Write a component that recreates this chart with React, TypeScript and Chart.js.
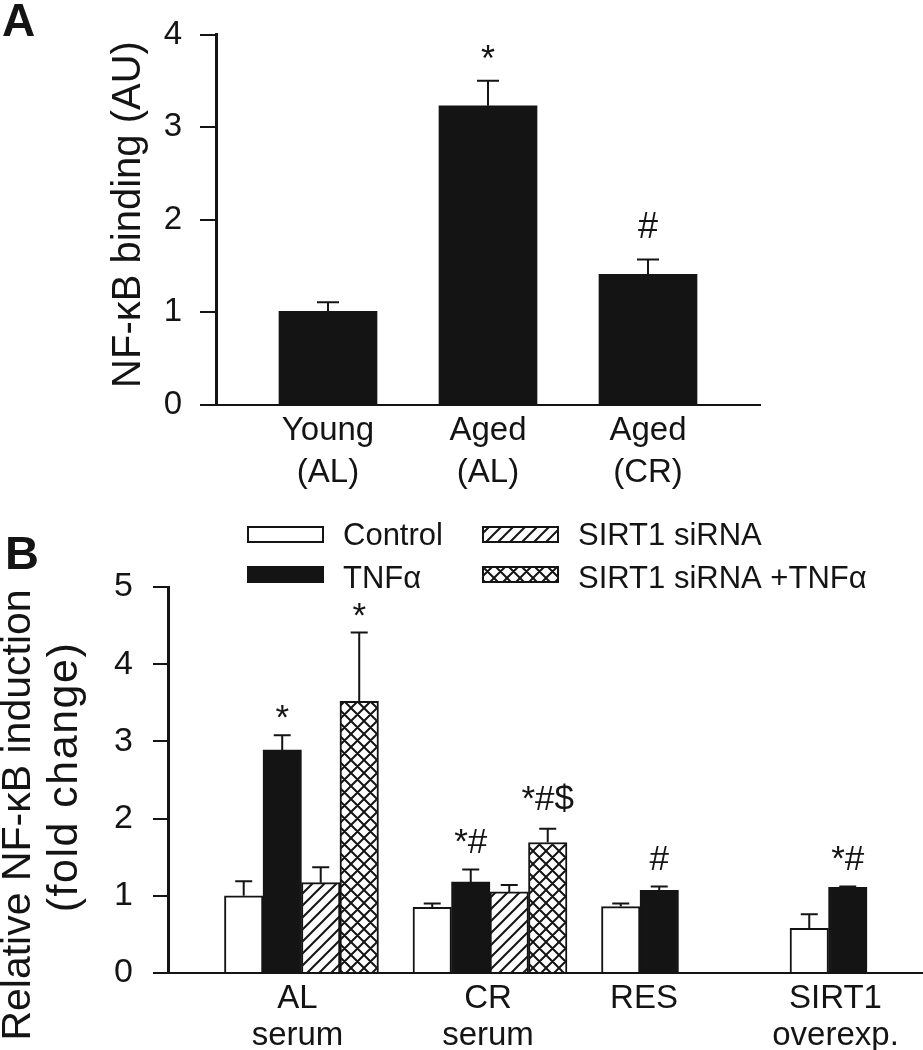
import React, { useEffect, useRef } from 'react';
import { Chart, registerables } from 'chart.js';

Chart.register(...registerables);

const FONT = '"Liberation Sans", Arial, Helvetica, sans-serif';
const INK = '#141414';

// ---------- Panel A data ----------
const categoriesA = [['Young', '(AL)'], ['Aged', '(AL)'], ['Aged', '(CR)']];
const valuesA = [1.01, 3.23, 1.41];
const errorsA = [0.1, 0.27, 0.16];
const marksA = ['', '*', '#'];
const ticksA = [0, 1, 2, 3, 4];

// ---------- Panel B data ----------
const categoriesB = [['AL', 'serum'], ['CR', 'serum'], ['RES'], ['SIRT1', 'overexp.']];
const seriesB = ['Control', 'TNFα', 'SIRT1 siRNA', 'SIRT1 siRNA +TNFα'];
const controlB = [1.0, 0.85, 0.86, 0.58];
const controlErrB = [0.19, 0.05, 0.04, 0.18];
const controlMarksB = ['', '', '', ''];
const tnfB = [2.89, 1.18, 1.07, 1.11];
const tnfErrB = [0.19, 0.16, 0.05, 0.01];
const tnfMarksB = ['*', '*#', '#', '*#'];
const sirnaB = [1.17, 1.05, null, null];
const sirnaErrB = [0.2, 0.09, null, null];
const sirnaMarksB = ['', '', '', ''];
const sirnaTnfB = [3.52, 1.69, null, null];
const sirnaTnfErrB = [0.89, 0.18, null, null];
const sirnaTnfMarksB = ['*', '*#$', '', ''];
const ticksB = [0, 1, 2, 3, 4, 5];

function makePattern(kind: 'diag' | 'cross'): CanvasPattern | string {
  const s = kind === 'diag' ? 12 : 13;
  const c = document.createElement('canvas');
  c.width = s;
  c.height = s;
  const g = c.getContext('2d');
  if (!g) return '#fff';
  g.fillStyle = '#fff';
  g.fillRect(0, 0, s, s);
  g.strokeStyle = INK;
  g.lineWidth = 2;
  g.lineCap = 'square';
  g.beginPath();
  g.moveTo(-2, s + 2);
  g.lineTo(s + 2, -2);
  g.moveTo(-2, 2);
  g.lineTo(2, -2);
  g.moveTo(s - 2, s + 2);
  g.lineTo(s + 2, s - 2);
  if (kind === 'cross') {
    g.moveTo(-2, -2);
    g.lineTo(s + 2, s + 2);
    g.moveTo(s - 2, -2);
    g.lineTo(s + 2, 2);
    g.moveTo(-2, s - 2);
    g.lineTo(2, s + 2);
  }
  g.stroke();
  const p = g.createPattern(c, 'repeat');
  return p || '#fff';
}

const decorPlugin = {
  id: 'decor',
  afterDatasetsDraw(chart: any, _a: any, opts: any) {
    const ctx = chart.ctx;
    const ys = chart.scales.y;
    chart.data.datasets.forEach((ds: any, di: number) => {
      const meta = chart.getDatasetMeta(di);
      meta.data.forEach((el: any, j: number) => {
        const v = ds.data[j].y;
        if (v === null || v === undefined) return;
        const e = ds.errors ? ds.errors[j] || 0 : 0;
        const top = ys.getPixelForValue(v + e);
        ctx.save();
        ctx.strokeStyle = INK;
        ctx.lineWidth = opts.errWidth;
        ctx.beginPath();
        ctx.moveTo(el.x, el.y);
        ctx.lineTo(el.x, top);
        ctx.moveTo(el.x - opts.cap / 2, top);
        ctx.lineTo(el.x + opts.cap / 2, top);
        ctx.stroke();
        const mark = ds.marks ? ds.marks[j] : '';
        if (mark) {
          ctx.font = `${opts.markSize}px ${FONT}`;
          ctx.textAlign = 'center';
          ctx.textBaseline = 'alphabetic';
          ctx.fillStyle = INK;
          const m = ctx.measureText(mark);
          ctx.fillText(mark, el.x, top - opts.markGap - m.actualBoundingBoxDescent);
        }
        ctx.restore();
      });
    });
  },
  afterDraw(chart: any, _a: any, opts: any) {
    const ctx = chart.ctx;
    ctx.save();
    ctx.fillStyle = INK;
    const cats: string[][] = opts.categories;
    ctx.font = `${opts.labelSize}px ${FONT}`;
    ctx.textAlign = 'center';
    ctx.textBaseline = 'alphabetic';
    cats.forEach((lines, j) => {
      const xs: number[] = [];
      chart.data.datasets.forEach((ds: any, di: number) => {
        const v = ds.data[j].y;
        if (v === null || v === undefined) return;
        xs.push(chart.getDatasetMeta(di).data[j].x);
      });
      if (!xs.length) return;
      const cx = xs.reduce((a, b) => a + b, 0) / xs.length + (opts.labelShift ? opts.labelShift[j] : 0);
      lines.forEach((t, k) => ctx.fillText(t, cx, opts.labelBaselines[k]));
    });
    opts.titles.forEach((t: any) => {
      ctx.save();
      ctx.translate(t.x, t.y);
      ctx.rotate(-Math.PI / 2);
      ctx.font = `${t.size}px ${FONT}`;
      if (t.spacing) (ctx as any).letterSpacing = `${t.spacing}px`;
      ctx.textAlign = 'center';
      ctx.textBaseline = 'middle';
      ctx.fillText(t.text, 0, 0);
      ctx.restore();
    });
    const L = opts.letter;
    ctx.font = `bold ${L.size}px ${FONT}`;
    ctx.textAlign = 'left';
    ctx.textBaseline = 'alphabetic';
    ctx.fillText(L.text, L.x, L.y);
    const lg = opts.legend;
    if (lg) {
      ctx.font = `${lg.size}px ${FONT}`;
      chart.data.datasets.forEach((ds: any, di: number) => {
        const col = Math.floor(di / 2);
        const row = di % 2;
        const bx = lg.colX[col];
        const by = lg.boxY[row];
        ctx.fillStyle = ds.backgroundColor;
        ctx.fillRect(bx, by, lg.boxW, lg.boxH);
        ctx.strokeStyle = INK;
        ctx.lineWidth = 2;
        ctx.strokeRect(bx, by, lg.boxW, lg.boxH);
        ctx.fillStyle = INK;
        ctx.fillText(ds.label, bx + lg.textDx, lg.textY[row]);
      });
    }
    ctx.restore();
  },
};

function configA(): any {
  return {
    type: 'bar',
    data: {
      datasets: [
        {
          label: 'NF-κB binding',
          data: valuesA.map((v, i) => ({ x: i, y: v })),
          errors: errorsA,
          marks: marksA,
          backgroundColor: INK,
          borderColor: INK,
          borderWidth: 0,
          barThickness: 98,
        },
      ],
    },
    options: {
      responsive: false,
      animation: false,
      layout: { padding: { top: 19, right: 163, left: 0, bottom: 0 } },
      plugins: {
        legend: { display: false },
        tooltip: { enabled: false },
        decor: {
          errWidth: 2,
          cap: 22,
          markSize: 36,
          markGap: 22,
          categories: categoriesA,
          labelSize: 33,
          labelBaselines: [440, 482],
          titles: [{ text: 'NF-κB binding (AU)', x: 128.5, y: 214.5, size: 40 }],
          letter: { text: 'A', x: 2, y: 36, size: 46 },
          legend: null,
        },
      },
      scales: {
        x: {
          type: 'linear',
          offset: false,
          min: -0.7,
          max: 2.7,
          afterBuildTicks: (s: any) => {
            s.ticks = categoriesA.map((_, i) => ({ value: i }));
          },
          ticks: { display: false },
          grid: { display: false, offset: false },
          border: { display: true, color: INK, width: 2 },
          afterFit: (s: any) => {
            s.height = 95;
          },
        },
        y: {
          type: 'linear',
          min: 0,
          max: 4,
          afterBuildTicks: (s: any) => {
            s.ticks = ticksA.map((v) => ({ value: v }));
          },
          ticks: { color: INK, padding: 18, font: { family: FONT, size: 33, lineHeight: 1 } },
          grid: { drawOnChartArea: false, drawTicks: true, tickLength: 16, color: INK, tickColor: INK, lineWidth: 2, tickWidth: 2 },
          border: { display: true, color: INK, width: 3 },
          afterFit: (s: any) => {
            s.width = 216;
          },
        },
      },
    },
    plugins: [decorPlugin],
  };
}

function configB(): any {
  const diag = makePattern('diag');
  const cross = makePattern('cross');
  const mk = (label: string, vals: (number | null)[], errs: (number | null)[], marks: string[], bg: any) => ({
    label,
    data: vals.map((v, i) => ({ x: i, y: v })),
    errors: errs,
    marks,
    backgroundColor: bg,
    borderColor: INK,
    borderWidth: 2,
    barThickness: 38.5,
  });
  return {
    type: 'bar',
    data: {
      datasets: [
        mk(seriesB[0], controlB, controlErrB, controlMarksB, '#ffffff'),
        mk(seriesB[1], tnfB, tnfErrB, tnfMarksB, INK),
        mk(seriesB[2], sirnaB, sirnaErrB, sirnaMarksB, diag),
        mk(seriesB[3], sirnaTnfB, sirnaTnfErrB, sirnaTnfMarksB, cross),
      ],
    },
    options: {
      responsive: false,
      animation: false,
      layout: { padding: { top: 87, right: 0, left: 0, bottom: 0 } },
      plugins: {
        legend: { display: false },
        tooltip: { enabled: false },
        decor: {
          errWidth: 2,
          cap: 17,
          markSize: 35,
          markGap: 17,
          categories: categoriesB,
          labelShift: [-4, -2, 4, 7],
          labelSize: 33,
          labelBaselines: [508, 545],
          titles: [
            { text: 'Relative NF-κB induction', x: 19, y: 315, size: 41 },
            { text: '(fold change)', x: 65.5, y: 277, size: 43, spacing: 1.5 },
          ],
          letter: { text: 'B', x: 5, y: 69, size: 47 },
          legend: {
            size: 31,
            colX: [248, 483],
            boxY: [27, 67],
            boxW: 75,
            boxH: 15,
            textDx: 95,
            textY: [45, 88],
          },
        },
      },
      scales: {
        x: {
          type: 'linear',
          offset: false,
          min: -0.708,
          max: 3.297,
          afterBuildTicks: (s: any) => {
            s.ticks = categoriesB.map((_, i) => ({ value: i }));
          },
          ticks: { display: false },
          grid: { display: false, offset: false },
          border: { display: true, color: INK, width: 2 },
          afterFit: (s: any) => {
            s.height = 77;
          },
        },
        y: {
          type: 'linear',
          min: 0,
          max: 5,
          afterBuildTicks: (s: any) => {
            s.ticks = ticksB.map((v) => ({ value: v }));
          },
          ticks: { color: INK, padding: 20, font: { family: FONT, size: 34, lineHeight: 1 } },
          grid: { drawOnChartArea: false, drawTicks: true, tickLength: 15, color: INK, tickColor: INK, lineWidth: 2, tickWidth: 2 },
          border: { display: true, color: INK, width: 3 },
          afterFit: (s: any) => {
            s.width = 168;
          },
        },
      },
    },
    plugins: [decorPlugin],
  };
}

function ChartCanvas({ makeConfig, top, height }: { makeConfig: () => any; top: number; height: number }) {
  const ref = useRef<HTMLCanvasElement | null>(null);
  useEffect(() => {
    if (!ref.current) return;
    const chart = new Chart(ref.current, makeConfig());
    return () => chart.destroy();
  }, []);
  return (
    <canvas
      ref={ref}
      width={923}
      height={height}
      style={{ position: 'absolute', left: 0, top, width: 923, height, display: 'block' }}
    />
  );
}

export default function App() {
  return (
    <div style={{ position: 'absolute', left: 0, top: 0, width: 923, height: 1050, background: '#ffffff', overflow: 'hidden' }}>
      <ChartCanvas makeConfig={configA} top={0} height={500} />
      <ChartCanvas makeConfig={configB} top={500} height={550} />
    </div>
  );
}
